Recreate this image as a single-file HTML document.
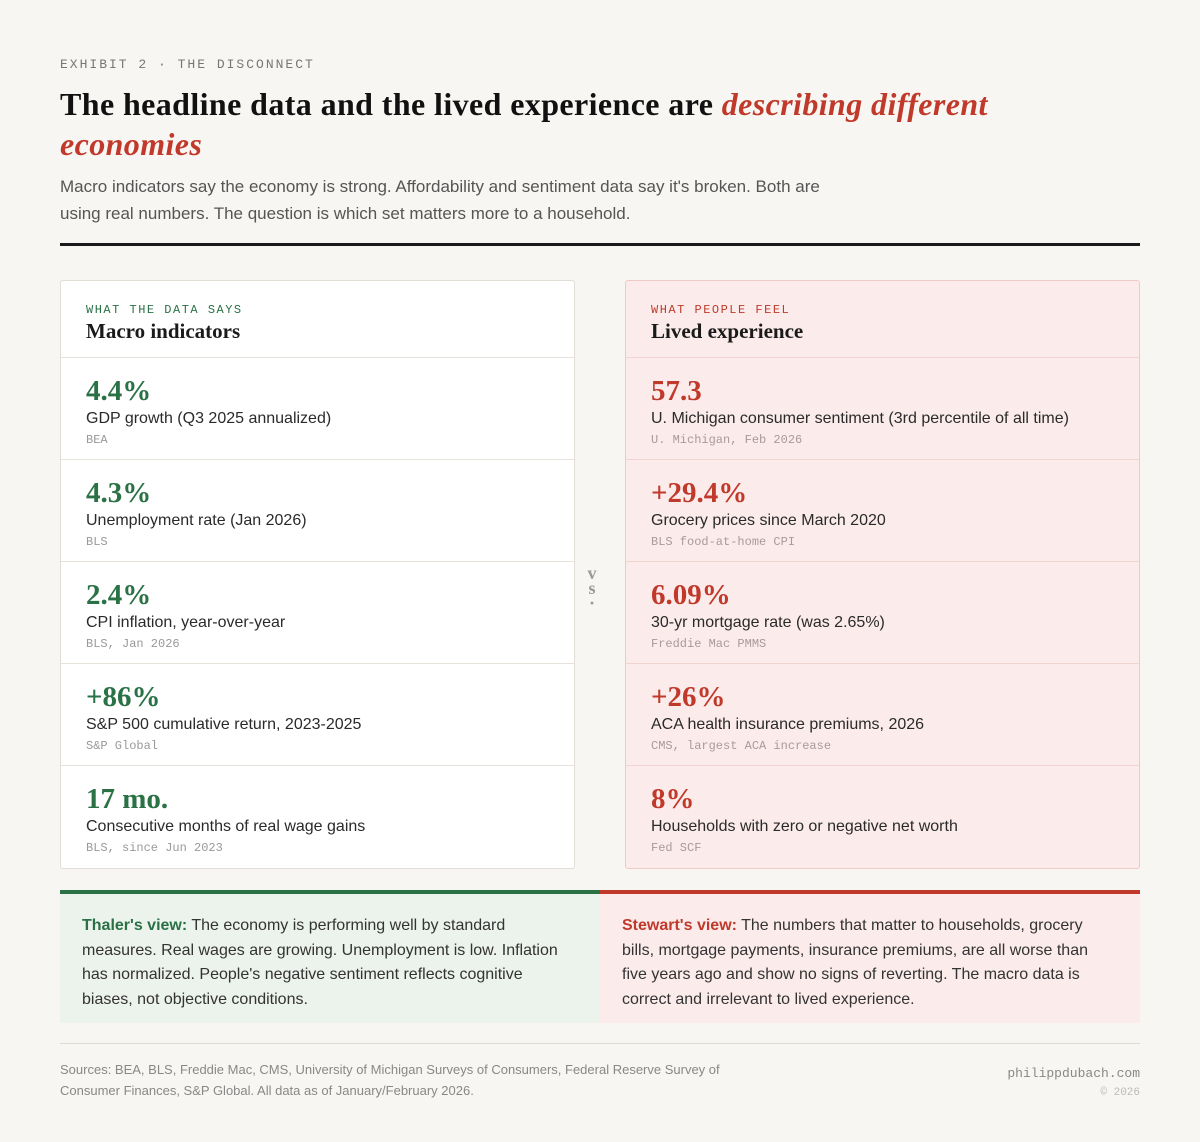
<!DOCTYPE html>
<html><head><meta charset="utf-8"><style>
*{margin:0;padding:0;box-sizing:border-box}
body{width:1200px;height:1142px;background:#f7f6f2;font-family:"Liberation Sans",sans-serif;color:#222;position:relative;overflow:hidden}
.mono{font-family:"Liberation Mono",monospace}
.serif{font-family:"Liberation Serif",serif}
.abs{position:absolute}
.card{position:absolute;top:280px;width:515px;height:589px;border:1px solid #e2ddd6;border-radius:3px;background:#fff}
.card.r{background:#fbeceb;border-color:#efc9c6}
.hd{height:77px;border-bottom:1px solid #e6e1da;padding:22px 25px 0}
.r .hd{border-color:#f1d3d0}
.lab{font-family:"Liberation Mono",monospace;font-size:12px;letter-spacing:1.5px;color:#2a7146}
.r .lab{color:#c0392b}
.ht{font-family:"Liberation Serif",serif;font-weight:bold;font-size:21px;color:#1a1a1a;margin-top:2px}
.row{height:102px;border-bottom:1px solid #e6e1da;padding:15px 25px 0}
.r .row{border-color:#f1d3d0}
.row:last-child{border-bottom:none}
.v{font-family:"Liberation Serif",serif;font-weight:bold;font-size:29px;color:#2a7146;line-height:36px}
.r .v{color:#c0392b}
.d{font-size:16px;color:#2a2a2a;margin-top:1px}
.s{font-family:"Liberation Mono",monospace;font-size:12px;color:#999;margin-top:5px}
.r .s{color:#a99}
</style></head><body>
<div class="abs mono" style="left:60px;top:57px;font-size:13px;letter-spacing:2px;color:#777">EXHIBIT 2 · THE DISCONNECT</div>
<div class="abs serif" style="left:60px;top:84px;width:1000px;font-size:32px;letter-spacing:0.4px;font-weight:bold;line-height:40px;color:#111">The headline data and the lived experience are <i style="color:#c0392b">describing different economies</i></div>
<div class="abs" style="left:60px;top:173px;width:805px;font-size:17px;line-height:27px;color:#555">Macro indicators say the economy is strong. Affordability and sentiment data say it's broken. Both are using real numbers. The question is which set matters more to a household.</div>
<div class="abs" style="left:60px;top:243px;width:1080px;height:3px;background:#1a1a1a"></div>

<div class="card" style="left:60px">
<div class="hd"><div class="lab">WHAT THE DATA SAYS</div><div class="ht">Macro indicators</div></div>
<div class="row"><div class="v">4.4%</div><div class="d">GDP growth (Q3 2025 annualized)</div><div class="s">BEA</div></div>
<div class="row"><div class="v">4.3%</div><div class="d">Unemployment rate (Jan 2026)</div><div class="s">BLS</div></div>
<div class="row"><div class="v">2.4%</div><div class="d">CPI inflation, year-over-year</div><div class="s">BLS, Jan 2026</div></div>
<div class="row"><div class="v">+86%</div><div class="d">S&amp;P 500 cumulative return, 2023-2025</div><div class="s">S&amp;P Global</div></div>
<div class="row"><div class="v">17 mo.</div><div class="d">Consecutive months of real wage gains</div><div class="s">BLS, since Jun 2023</div></div>
</div>

<div class="abs serif" style="left:582px;top:566px;width:20px;text-align:center;font-size:18px;font-weight:bold;color:#999;line-height:15px">v<br>s<br>·</div>

<div class="card r" style="left:625px">
<div class="hd"><div class="lab">WHAT PEOPLE FEEL</div><div class="ht">Lived experience</div></div>
<div class="row"><div class="v">57.3</div><div class="d">U. Michigan consumer sentiment (3rd percentile of all time)</div><div class="s">U. Michigan, Feb 2026</div></div>
<div class="row"><div class="v">+29.4%</div><div class="d">Grocery prices since March 2020</div><div class="s">BLS food-at-home CPI</div></div>
<div class="row"><div class="v">6.09%</div><div class="d">30-yr mortgage rate (was 2.65%)</div><div class="s">Freddie Mac PMMS</div></div>
<div class="row"><div class="v">+26%</div><div class="d">ACA health insurance premiums, 2026</div><div class="s">CMS, largest ACA increase</div></div>
<div class="row"><div class="v">8%</div><div class="d">Households with zero or negative net worth</div><div class="s">Fed SCF</div></div>
</div>

<div class="abs" style="left:60px;top:890px;width:540px;height:133px;background:#ecf2ec;border-top:4px solid #2a7146;padding:20px 40px 0 22px;font-size:16px;line-height:24.5px;color:#333"><b style="color:#2a7146">Thaler's view:</b> The economy is performing well by standard measures. Real wages are growing. Unemployment is low. Inflation has normalized. People's negative sentiment reflects cognitive biases, not objective conditions.</div>
<div class="abs" style="left:600px;top:890px;width:540px;height:133px;background:#fbeceb;border-top:4px solid #c0392b;padding:20px 30px 0 22px;font-size:16px;line-height:24.5px;color:#333"><b style="color:#c0392b">Stewart's view:</b> The numbers that matter to households, grocery bills, mortgage payments, insurance premiums, are all worse than five years ago and show no signs of reverting. The macro data is correct and irrelevant to lived experience.</div>

<div class="abs" style="left:60px;top:1043px;width:1080px;height:1px;background:#dedad3"></div>
<div class="abs" style="left:60px;top:1059px;width:720px;font-size:13px;line-height:21px;color:#888">Sources: BEA, BLS, Freddie Mac, CMS, University of Michigan Surveys of Consumers, Federal Reserve Survey of Consumer Finances, S&amp;P Global. All data as of January/February 2026.</div>
<div class="abs mono" style="right:60px;top:1065px;text-align:right;font-size:13px;line-height:18px;color:#888">philippdubach.com<br><span style="color:#bbb;font-size:11px">© 2026</span></div>
</body></html>
